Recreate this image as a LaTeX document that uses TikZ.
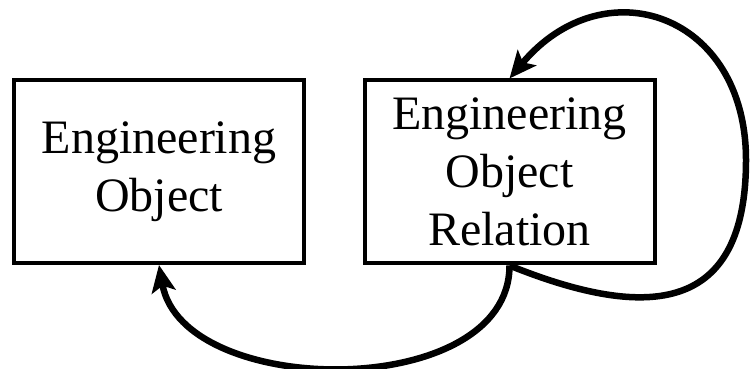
\documentclass[tikz,border=0pt]{standalone}
\usepackage{fontspec}
\setmainfont{Liberation Serif}
\usetikzlibrary{arrows.meta}

\begin{document}
\begin{tikzpicture}[x=1pt,y=1pt,
  box/.style={draw,line width=4pt,align=center,font=\fontsize{48}{58}\selectfont,
    minimum width=290pt,minimum height=183pt,inner sep=0pt},
  link/.style={line width=6.5pt,-{Stealth[length=27pt,width=24pt,inset=6pt]}}]
\useasboundingbox (0,0) rectangle (752,369);
\node[box] (obj) at (159,197.5) {Engineering\\Object};
\node[box] (rel) at (509.5,197) {Engineering\\Object\\Relation};
\coordinate (loop) at (746,209);
\draw[link] (rel.south) to[out=-90,in=-80] (obj.south);
\draw[link] (rel.south) to[out=-22,in=-90,looseness=1.5] (loop)
  to[out=90,in=50,looseness=1.5] (rel.north);
\end{tikzpicture}
\end{document}
